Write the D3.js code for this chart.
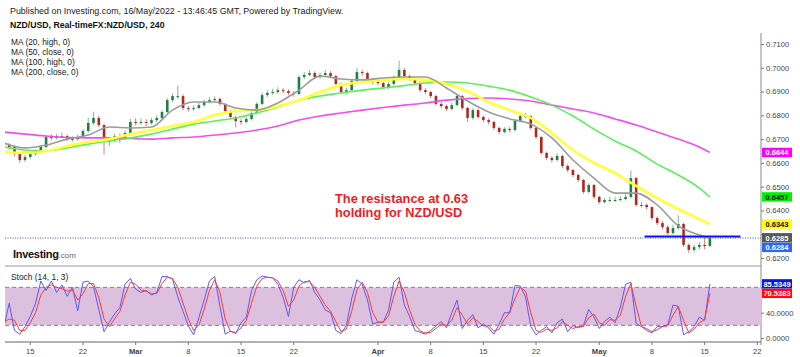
<!DOCTYPE html>
<html><head><meta charset="utf-8">
<script src="https://cdn.jsdelivr.net/npm/d3@7"></script>
<style>body{margin:0;background:#fff}svg{display:block;font-family:"Liberation Sans",Arial,sans-serif}</style>
</head><body><svg id="c" width="800" height="357"></svg>
<script>
// ---------- DATA ----------
const firstBarDate = "2022-02-10";   // first half-day bar (afternoon session)
const barsPerDay = 2;
const closes = [
0.6675,0.6667,0.6637,0.6612,0.6625,0.6637,0.6650,0.6667,0.6709,0.6705,
0.6713,0.6713,0.6700,0.6700,0.6709,0.6734,0.6768,0.6789,0.6759,0.6688,
0.6696,0.6713,0.6705,0.6726,0.6772,0.6768,0.6772,0.6768,0.6780,0.6789,
0.6814,0.6864,0.6881,0.6881,0.6831,0.6827,0.6831,0.6843,0.6856,0.6864,
0.6869,0.6848,0.6818,0.6793,0.6776,0.6772,0.6785,0.6810,0.6848,0.6885,
0.6894,0.6898,0.6906,0.6902,0.6894,0.6890,0.6961,0.6970,0.6978,0.6961,
0.6970,0.6978,0.6965,0.6932,0.6898,0.6906,0.6944,0.6982,0.6978,0.6949,
0.6940,0.6936,0.6919,0.6932,0.6961,0.6991,0.6965,0.6953,0.6936,0.6906,
0.6898,0.6881,0.6848,0.6839,0.6827,0.6843,0.6881,0.6831,0.6789,0.6822,
0.6793,0.6780,0.6772,0.6747,0.6730,0.6743,0.6738,0.6776,0.6797,0.6797,
0.6747,0.6709,0.6642,0.6621,0.6612,0.6629,0.6587,0.6570,0.6549,0.6528,
0.6478,0.6507,0.6457,0.6435,0.6444,0.6444,0.6444,0.6448,0.6457,0.6536,
0.6423,0.6423,0.6414,0.6368,0.6347,0.6330,0.6305,0.6326,0.6343,0.6255,
0.6234,0.6246,0.6255,0.6250,0.6284];
const opens0 = 0.6685; // open of the first bar; later opens = previous close
const highs = [
0.6695,0.6683,0.6672,0.6642,0.6633,0.6645,0.6658,0.6676,0.6718,0.6720,
0.6722,0.6728,0.6719,0.6712,0.6718,0.6742,0.6790,0.6815,0.6797,0.6765,
0.6710,0.6722,0.6724,0.6735,0.6785,0.6788,0.6786,0.6784,0.6790,0.6800,
0.6822,0.6872,0.6892,0.6925,0.6888,0.6840,0.6842,0.6852,0.6866,0.6876,
0.6880,0.6875,0.6852,0.6824,0.6800,0.6785,0.6795,0.6818,0.6856,0.6895,
0.6905,0.6912,0.6918,0.6915,0.6910,0.6902,0.6968,0.6982,0.6990,0.6985,
0.6980,0.6990,0.6986,0.6970,0.6938,0.6916,0.6952,0.6998,0.6992,0.6984,
0.6956,0.6948,0.6942,0.6940,0.6968,0.7030,0.6998,0.6972,0.6960,0.6940,
0.6914,0.6904,0.6886,0.6855,0.6846,0.6852,0.6890,0.6886,0.6836,0.6830,
0.6828,0.6800,0.6788,0.6778,0.6752,0.6750,0.6752,0.6784,0.6808,0.6810,
0.6802,0.6752,0.6712,0.6648,0.6628,0.6640,0.6634,0.6594,0.6575,0.6556,
0.6532,0.6515,0.6512,0.6462,0.6452,0.6458,0.6455,0.6460,0.6468,0.6568,
0.6542,0.6436,0.6430,0.6418,0.6375,0.6356,0.6338,0.6340,0.6380,0.6348,
0.6262,0.6256,0.6266,0.6292,0.6292];
const lows = [
0.6668,0.6655,0.6628,0.6600,0.6604,0.6618,0.6630,0.6644,0.6662,0.6696,
0.6698,0.6704,0.6692,0.6690,0.6693,0.6704,0.6728,0.6760,0.6750,0.6635,
0.6670,0.6688,0.6684,0.6698,0.6720,0.6758,0.6760,0.6755,0.6760,0.6772,
0.6782,0.6808,0.6856,0.6870,0.6822,0.6815,0.6818,0.6825,0.6836,0.6850,
0.6856,0.6840,0.6808,0.6785,0.6750,0.6760,0.6766,0.6778,0.6804,0.6842,
0.6878,0.6886,0.6890,0.6892,0.6884,0.6878,0.6885,0.6952,0.6964,0.6952,
0.6954,0.6962,0.6956,0.6925,0.6890,0.6888,0.6900,0.6938,0.6966,0.6940,
0.6930,0.6926,0.6910,0.6912,0.6926,0.6955,0.6958,0.6944,0.6928,0.6898,
0.6888,0.6872,0.6840,0.6830,0.6818,0.6820,0.6838,0.6822,0.6772,0.6782,
0.6785,0.6770,0.6762,0.6738,0.6722,0.6724,0.6728,0.6732,0.6770,0.6788,
0.6740,0.6700,0.6634,0.6612,0.6602,0.6606,0.6578,0.6560,0.6540,0.6520,
0.6470,0.6472,0.6448,0.6428,0.6430,0.6434,0.6436,0.6438,0.6442,0.6450,
0.6416,0.6412,0.6404,0.6360,0.6338,0.6320,0.6296,0.6298,0.6318,0.6246,
0.6220,0.6224,0.6236,0.6236,0.6248];
// moving averages, read every 4th bar (last value = last bar)
const maEvery = 4;
const ma20 = [0.6684,0.6663,0.6675,0.6700,0.6717,0.6751,0.6747,0.6751,0.6822,0.6856,
0.6856,0.6831,0.6822,0.6852,0.6906,0.6965,0.6953,0.6949,0.6957,0.6961,
0.6961,0.6915,0.6860,0.6814,0.6785,0.6763,0.6705,0.6612,0.6536,0.6473,
0.6473,0.6423,0.6335,0.6297,0.6285];
const ma50 = [0.6646,0.6642,0.6650,0.6671,0.6688,0.6700,0.6721,0.6738,0.6755,0.6772,
0.6801,0.6818,0.6822,0.6839,0.6864,0.6898,0.6927,0.6940,0.6949,0.6953,
0.6949,0.6932,0.6902,0.6856,0.6822,0.6789,0.6726,0.6654,0.6600,0.6557,
0.6503,0.6452,0.6406,0.6364,0.6343];
const ma100 = [0.6667,0.6654,0.6650,0.6663,0.6679,0.6692,0.6705,0.6721,0.6742,0.6763,
0.6776,0.6789,0.6810,0.6835,0.6864,0.6881,0.6894,0.6906,0.6915,0.6925,
0.6936,0.6940,0.6936,0.6923,0.6906,0.6877,0.6843,0.6797,0.6742,0.6692,
0.6650,0.6595,0.6549,0.6494,0.6457];
const ma200 = [0.6730,0.6721,0.6713,0.6707,0.6705,0.6705,0.6703,0.6700,0.6705,0.6709,
0.6717,0.6726,0.6738,0.6755,0.6780,0.6797,0.6810,0.6822,0.6833,0.6843,
0.6852,0.6864,0.6871,0.6873,0.6869,0.6860,0.6843,0.6827,0.6810,0.6785,
0.6759,0.6730,0.6700,0.6667,0.6644];
const maNames = ["MA (20, high, 0)","MA (50, close, 0)","MA (100, high, 0)","MA (200, close, 0)"];
// stochastic (14,1,3): %K and %D per half-day bar
const stochK = [18,55,12,6,18,34,55,90,75,90,72,84,66,80,43,88,90,81,45,10,
25,38,48,85,94,77,72,75,68,72,97,97,93,65,42,19,5,32,60,90,
97,50,6,11,7,24,33,75,92,98,96,95,85,64,34,80,92,87,91,72,
60,44,40,12,7,20,62,92,85,60,22,25,25,44,88,96,52,34,12,9,
6,12,19,26,16,40,60,15,28,37,16,22,16,6,22,40,40,83,82,65,
18,5,12,18,8,24,30,10,20,16,20,45,33,15,26,33,24,49,85,88,
23,18,12,8,18,18,21,52,50,5,10,18,33,28,85.5349];
const stochD = [25,30,28,12,12,24,40,68,80,84,80,78,74,76,60,70,86,86,64,30,
18,30,42,68,88,85,76,74,70,70,86,96,94,80,55,30,12,20,45,75,
92,72,30,10,9,16,28,55,82,94,96,95,90,75,50,60,82,89,89,80,
66,52,42,26,10,14,42,76,88,72,40,25,25,35,66,90,72,44,22,11,
8,9,15,22,20,28,48,36,22,32,26,19,19,11,14,30,40,62,80,74,
40,12,9,14,12,16,26,20,15,18,18,32,38,24,20,29,28,36,66,86,
50,18,15,10,13,18,19,36,50,28,8,14,24,29,70.5383];
const priceTicks = [0.62,0.63,0.64,0.65,0.66,0.67,0.68,0.69,0.70,0.71];
const stochTicks = [0,40,80];
const stochBand = [20,80];
const tickDates = ["2022-02-15","2022-02-22","2022-03-01","2022-03-08","2022-03-15","2022-03-22","2022-04-01","2022-04-08","2022-04-15","2022-04-22","2022-05-01","2022-05-08","2022-05-15","2022-05-22"];
const tickLabels = ["15","22","Mar","8","15","22","Apr","8","15","22","May","8","15","22"];
const resistanceLevel = 0.6290;
const resistanceFrom = "2022-05-06", resistanceTo = "2022-05-19";

// ---------- HELPERS ----------
const BASE = Date.UTC(2022,1,15);
function tradingIndex(s){
  const d = Date.parse(s+"T00:00:00Z"), day = 86400000;
  let n = 0;
  if (d >= BASE){ for(let t=BASE;t<d;t+=day){const w=new Date(t).getUTCDay(); if(w!==0&&w!==6)n++;} }
  else { for(let t=d;t<BASE;t+=day){const w=new Date(t).getUTCDay(); if(w!==0&&w!==6)n--;} }
  return n;
}
const t0 = tradingIndex(firstBarDate) + 0.5;
const barT = i => t0 + i / barsPerDay;
const N = closes.length;
const bars = closes.map((c,i)=>({t:barT(i), o:i?closes[i-1]:opens0, h:highs[i], l:lows[i], c}));

const svg = d3.select("#c");
const L = 5, R = 761;
const x = d3.scaleLinear().domain([-2.4, 69.35]).range([L, R]);
const y = d3.scaleLinear().domain([0.62, 0.71]).range([258, 44]);
const ys = d3.scaleLinear().domain([0, 100]).range([338, 274.7]);
const P_TOP = 30, P_BOT = 266, S_TOP = 266, S_BOT = 342;
const FONT = "Liberation Sans, Arial, sans-serif";

svg.append("defs").call(d=>{
  d.append("clipPath").attr("id","cp").append("rect").attr("x",L).attr("y",P_TOP).attr("width",R-L).attr("height",P_BOT-P_TOP);
  d.append("clipPath").attr("id","cs").append("rect").attr("x",L).attr("y",S_TOP).attr("width",R-L).attr("height",S_BOT-S_TOP);
});

// ---------- HEADER ----------
svg.append("text").attr("x",10).attr("y",14).attr("font-size",8.9).attr("fill","#222")
  .text("Published on Investing.com, 16/May/2022 - 13:46:45 GMT, Powered by TradingView.");
svg.append("text").attr("x",10).attr("y",28).attr("font-size",8.7).attr("font-weight","bold").attr("fill","#111")
  .text("NZD/USD, Real-timeFX:NZD/USD, 240");
maNames.forEach((n,i)=> svg.append("text").attr("x",11).attr("y",44.5+i*10.3).attr("font-size",8.4).attr("fill","#222").text(n));

// ---------- PRICE PANEL ----------
const gp = svg.append("g").attr("clip-path","url(#cp)");
// current price dotted line
gp.append("line").attr("x1",0).attr("x2",R).attr("y1",y(closes[N-1])).attr("y2",y(closes[N-1]))
  .attr("stroke","#3050ff").attr("stroke-width",1).attr("stroke-dasharray","1,1.5");

const up="#1e7f46", dn="#b3261e";
const cw = 2.6;
const cg = gp.append("g");
cg.selectAll("line.w").data(bars).join("line").attr("class","w")
  .attr("x1",d=>x(d.t)).attr("x2",d=>x(d.t)).attr("y1",d=>y(d.h)).attr("y2",d=>y(d.l))
  .attr("stroke",d=>d.c>=d.o?up:dn).attr("stroke-width",0.8).attr("opacity",0.7);
cg.selectAll("rect").data(bars).join("rect")
  .attr("x",d=>x(d.t)-cw/2).attr("width",cw)
  .attr("y",d=>y(Math.max(d.o,d.c))).attr("height",d=>Math.max(1,Math.abs(y(d.o)-y(d.c))))
  .attr("fill",d=>d.c>=d.o?up:dn);

const maLine = d3.line().x(d=>x(d.t)).y(d=>y(d.v)).curve(d3.curveMonotoneX);
const maPts = arr => arr.map((v,k)=>({t:barT(Math.min(k*maEvery,N-1)), v}));
[[ma200,"#f04ef0",1.6],[ma100,"#5cf05c",1.6],[ma50,"#ffff3a",2.6],[ma20,"#9c9c9c",1.6]].forEach(([a,c,w])=>{
  gp.append("path").attr("d",maLine(maPts(a))).attr("fill","none").attr("stroke",c).attr("stroke-width",w);
});

// resistance line
gp.append("line").attr("x1",x(tradingIndex(resistanceFrom)+0.3)).attr("x2",x(tradingIndex(resistanceTo)+0.4))
  .attr("y1",y(resistanceLevel)).attr("y2",y(resistanceLevel)).attr("stroke","#1010ff").attr("stroke-width",2);

// annotation
const ann = svg.append("text").attr("font-size",12.8).attr("font-weight","bold").attr("fill","#ee1c25");
ann.append("tspan").attr("x",335).attr("y",203).text("The resistance at 0.63");
ann.append("tspan").attr("x",335).attr("y",216.5).text("holding for NZD/USD");

// logo
const logo = svg.append("text").attr("x",13).attr("y",257.5);
logo.append("tspan").attr("font-size",11).attr("font-weight","bold").attr("fill","#111").attr("letter-spacing",-0.3).text("Investing");
logo.append("tspan").attr("font-size",8).attr("fill","#666").text(".com");

// right axis line
svg.append("line").attr("x1",R).attr("x2",R).attr("y1",33).attr("y2",345).attr("stroke","#8a8a8a");

// price badges (collision avoided downward)
const badges = [
  {v:ma200[ma200.length-1], bg:"#ff00ff", fg:"#fff"},
  {v:ma100[ma100.length-1], bg:"#00f000", fg:"#111"},
  {v:ma50[ma50.length-1], bg:"#ffff00", fg:"#111"},
  {v:ma20[ma20.length-1], bg:"#585858", fg:"#fff"},
  {v:closes[N-1], bg:"#3366ee", fg:"#fff"}
].map(b=>({...b, yy:y(b.v)})).sort((a,b)=>a.yy-b.yy||b.v-a.v);
for(let i=1;i<badges.length;i++) if(badges[i].yy-badges[i-1].yy<9.6) badges[i].yy=badges[i-1].yy+9.6;
const stochBadges = [
  {yy:ys(stochK[N-1]), bg:"#0a14f0", fg:"#fff", txt:stochK[N-1].toFixed(4)},
  {yy:ys(stochD[N-1]), bg:"#ff0a0a", fg:"#fff", txt:stochD[N-1].toFixed(4)}
];

function axisOn(scale, ticks, blockers){
  const g = svg.append("g").attr("transform",`translate(${R},0)`)
    .call(d3.axisRight(scale).tickValues(ticks).tickSize(3).tickPadding(2).tickFormat(d3.format(".4f")));
  g.select(".domain").remove();
  g.selectAll("line").attr("stroke","#777");
  g.selectAll("text").attr("font-size",7.6).attr("fill","#444").attr("font-family",FONT);
  // labels hidden behind value badges are not drawn
  g.selectAll(".tick").filter(v=>blockers.some(b=>Math.abs(scale(v)-b.yy)<8.5)).select("text").remove();
}
axisOn(y, priceTicks, badges);

function drawBadge(b, txt){
  svg.append("rect").attr("x",R+1).attr("y",b.yy-4.7).attr("width",30).attr("height",9.4).attr("fill",b.bg);
  svg.append("text").attr("x",R+16).attr("y",b.yy+2.8).attr("text-anchor","middle").attr("font-size",7.5)
    .attr("font-weight","bold").attr("fill",b.fg).text(txt);
}
badges.forEach(b=>drawBadge(b, b.v.toFixed(4)));

// ---------- STOCH PANEL ----------
svg.append("line").attr("x1",L).attr("x2",R).attr("y1",S_TOP).attr("y2",S_TOP).attr("stroke","#999").attr("stroke-width",1.2);
svg.append("rect").attr("x",L).attr("width",R-L).attr("y",ys(stochBand[1])).attr("height",ys(stochBand[0])-ys(stochBand[1])).attr("fill","#dcc0de");
stochBand.forEach(v=> svg.append("line").attr("x1",L).attr("x2",R).attr("y1",ys(v)).attr("y2",ys(v))
  .attr("stroke","#8a7f8a").attr("stroke-dasharray","4,3"));
svg.append("text").attr("x",11).attr("y",280).attr("font-size",8.4).attr("fill","#222").text("Stoch (14, 1, 3)");
const gs = svg.append("g").attr("clip-path","url(#cs)");
const sLine = arr => d3.line().x((d,i)=>x(barT(i))).y(d=>ys(d))(arr);
gs.append("path").attr("d",sLine(stochK)).attr("fill","none").attr("stroke","#5a5aff").attr("stroke-width",1);
gs.append("path").attr("d",sLine(stochD)).attr("fill","none").attr("stroke","#ff3b3b").attr("stroke-width",1);

axisOn(ys, stochTicks, stochBadges);
stochBadges.forEach(b=>drawBadge(b, b.txt));

// ---------- TIME AXIS ----------
svg.append("line").attr("x1",L).attr("x2",R).attr("y1",S_BOT).attr("y2",S_BOT).attr("stroke","#666").attr("stroke-width",1.2);
const tg = svg.append("g");
tickDates.forEach((dt,i)=>{
  const xx = x(tradingIndex(dt));
  tg.append("line").attr("x1",xx).attr("x2",xx).attr("y1",S_BOT).attr("y2",S_BOT+3).attr("stroke","#777");
  tg.append("text").attr("x",xx).attr("y",353.5).attr("text-anchor","middle").attr("font-size",7.6)
    .attr("font-weight",isNaN(+tickLabels[i])?"bold":"normal").attr("fill","#444").text(tickLabels[i]);
});
</script></body></html>
